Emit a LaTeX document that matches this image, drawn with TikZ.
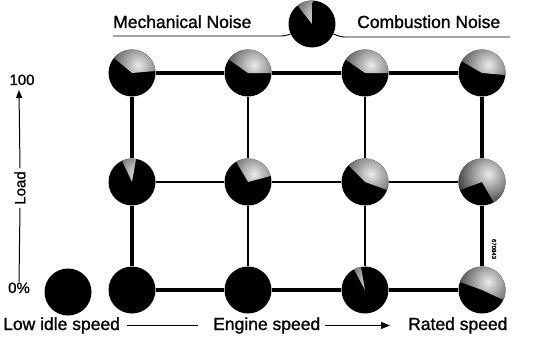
\documentclass[tikz,border=0pt]{standalone}
\usepackage{fontspec}
\setmainfont{Liberation Sans}[FakeBold=1.2]
\usetikzlibrary{calc,arrows.meta}
\tikzset{
  ball/.style={circle, fill=black, minimum size=47pt, inner sep=0pt},
  thickline/.style={line width=4.5pt},
  thinline/.style={line width=1.4pt},
  thinrule/.style={line width=0.9pt},
  lbl/.style={font=\fontsize{17.5}{20}\selectfont, inner sep=0pt},
  axlbl/.style={font=\fontsize{15}{18}\selectfont, inner sep=0pt},
}
\newcommand\pieball[3]{%
  \begin{scope}
    \clip (#1.center) -- ++(#2:23.5pt) arc[start angle=#2, end angle=#3, radius=23.5pt] -- cycle;
    \shade[inner color=black!8, outer color=black!75] ($(#1.center)+(6pt,8pt)$) circle (32pt);
  \end{scope}}
\begin{document}
\begin{tikzpicture}[x=1pt,y=1pt]
\useasboundingbox (0,0) rectangle (534,349);
% grid balls
\node[ball] (a1) at (132,276) {};
\node[ball] (a2) at (248,276) {};
\node[ball] (a3) at (365,276) {};
\node[ball] (a4) at (482,276) {};
\node[ball] (b1) at (132,167) {};
\node[ball] (b2) at (248,167) {};
\node[ball] (b3) at (365,167) {};
\node[ball] (b4) at (482,167) {};
\node[ball] (c1) at (132,59) {};
\node[ball] (c2) at (248,59) {};
\node[ball] (c3) at (365,59) {};
\node[ball] (c4) at (482,59) {};
\node[ball] (idle) at (68,57) {};
\node[ball] (leg) at (312,325) {};
% grid lines
\draw[thickline] (a1) -- (a2); \draw[thickline] (a2) -- (a3); \draw[thickline] (a3) -- (a4);
\draw[thickline] (c1) -- (c2); \draw[thickline] (c2) -- (c3); \draw[thickline] (c3) -- (c4);
\draw[thickline] (a1) -- (b1); \draw[thickline] (b1) -- (c1);
\draw[thickline] (a4) -- (b4); \draw[thickline] (b4) -- (c4);
\draw[thinline] (b1) -- (b2); \draw[thinline] (b2) -- (b3); \draw[thinline] (b3) -- (b4);
\draw[thinline] (a2) -- (b2); \draw[thinline] (b2) -- (c2);
\draw[thinline] (a3) -- (b3); \draw[thinline] (b3) -- (c3);
% pie shading (mechanical noise share)
\pieball{a1}{5}{140}
\pieball{a2}{0}{145}
\pieball{a3}{0}{145}
\pieball{a4}{-5}{150}
\pieball{b1}{80}{115}
\pieball{b2}{15}{120}
\pieball{b3}{-20}{135}
\pieball{b4}{-60}{200}
\pieball{c3}{100}{118}
\pieball{c4}{-25}{160}
\pieball{leg}{88}{128}
% legend
\node[lbl, anchor=base west] (mech) at (113,321) {Mechanical Noise};
\node[lbl, anchor=base west] (comb) at (357,321) {Combustion Noise};
\coordinate (ml) at (280,313);
\coordinate (mlend) at (113,313);
\coordinate (cr) at (345,312);
\coordinate (crend) at (510,312);
\draw[thinrule] (leg.205) to[out=200,in=0] (ml) -- (mlend);
\draw[thinrule] (leg.-25) to[out=-20,in=180] (cr) -- (crend);
% load axis
\node[axlbl, anchor=base] (hund) at (22,264) {100};
\node[axlbl, anchor=base] (zero) at (19,56) {0\%};
\node[axlbl, rotate=90, inner sep=3pt] (load) at (20,161) {Load};
\coordinate (ltop) at (19,259);
\coordinate (lbot) at (19,67);
\draw[line width=1pt, -{Triangle[length=8pt,width=6pt]}] (load.east) -- (ltop);
\draw[line width=1pt] (load.west) -- (lbot);
% speed axis
\node[lbl, anchor=base west] (low) at (3,19) {Low idle speed};
\node[lbl, anchor=base west] (eng) at (213,19) {Engine speed};
\node[lbl, anchor=base west] (rated) at (408,19) {Rated speed};
\draw[line width=1pt, shorten <=7pt, shorten >=15pt] (low.east) -- (eng.west);
\draw[line width=1pt, shorten <=5pt, shorten >=18pt, -{Triangle[length=9pt,width=7pt]}] (eng.east) -- (rated.west);
% figure code
\node[rotate=-90, font=\fontsize{6}{7}\selectfont, inner sep=0pt] (code) at (494,100) {670843};
\end{tikzpicture}
\end{document}
